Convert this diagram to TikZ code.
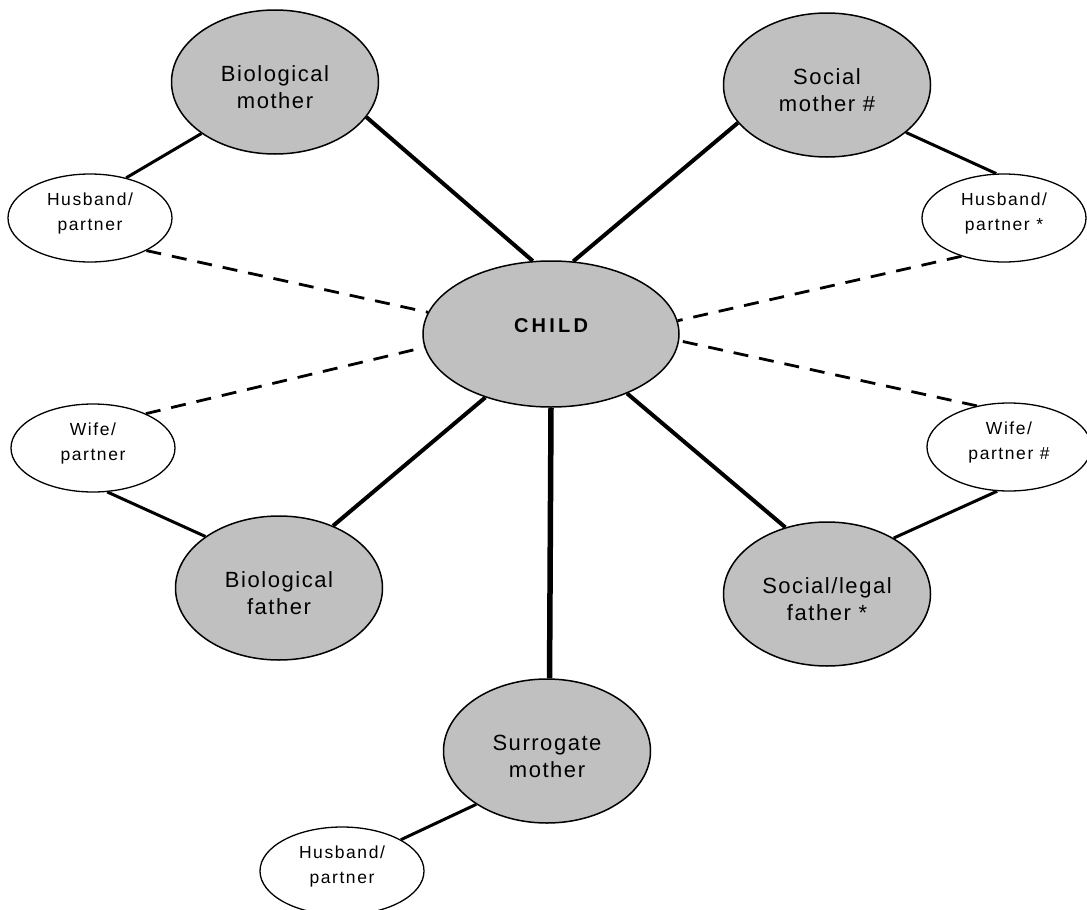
\documentclass[tikz,border=0pt]{standalone}
\usepackage{fontspec}
\setmainfont{Liberation Sans}
\usetikzlibrary{shapes.geometric}
\definecolor{nodegray}{HTML}{C0C0C0}
\newcommand{\toppad}{\rule{0pt}{27pt}}
\tikzset{
  big/.style={ellipse, draw=black, line width=1.5pt, fill=nodegray, inner sep=0pt,
    minimum width=207pt, minimum height=144pt, align=center,
    font=\fontsize{22}{27}\selectfont\addfontfeature{LetterSpace=7}},
  small/.style={ellipse, draw=black, line width=1.3pt, fill=white, inner sep=0pt,
    minimum width=164pt, minimum height=88pt, align=center,
    font=\fontsize{17.5}{25}\selectfont\addfontfeature{LetterSpace=9},
    execute at end node={\rule[-12pt]{0pt}{0pt}}},
  childnode/.style={ellipse, draw=black, line width=1.5pt, fill=nodegray, inner sep=0pt,
    minimum width=256pt, minimum height=146pt,
    font=\fontsize{20}{24}\bfseries\selectfont\addfontfeature{LetterSpace=16}},
  thickline/.style={line width=4pt},
  partnerline/.style={line width=3pt},
  dashline/.style={line width=2.8pt, dash pattern=on 15pt off 11pt}
}
\begin{document}
\begin{tikzpicture}[x=1pt,y=-1pt]
\useasboundingbox (0,0) rectangle (1087,910);
\node[childnode] (child) at (551,334) {\raisebox{2pt}[0pt][0pt]{CHILD}};
\node[big] (biomother) at (275,82) {\toppad Biological\\mother};
\node[big] (socmother) at (827,85) {\toppad Social\\mother \#};
\node[big] (biofather) at (279,588) {\toppad Biological\\father};
\node[big] (socfather) at (827,594) {\toppad Social/legal\\father *};
\node[big] (surrogate) at (547,751) {\toppad Surrogate\\mother};
\node[small] (husbL) at (90,218) {Husband/\\partner};
\node[small] (husbR) at (1004,218) {Husband/\\partner *};
\node[small] (wifeL) at (93,448) {Wife/\\partner};
\node[small] (wifeR) at (1009,447) {Wife/\\partner \#};
\node[small] (husbB) at (342,871) {Husband/\\partner};

\draw[thickline] (biomother.-21.7) -- (child.104);
\draw[thickline] (socmother.203.9) -- (child.73);
\draw[thickline] (biofather.49.4) -- (child.224.6);
\draw[thickline] (socfather.122.5) -- (child.-38.6);
\draw[line width=5.5pt] (child.270) -- (surrogate.88);

\draw[partnerline] (biomother.215.3) -- (husbL.48.8);
\draw[partnerline] (socmother.-31.2) -- (husbR.100.3);
\draw[partnerline] (biofather.145.4) -- (wifeL.288.4);
\draw[partnerline] (socfather.40.7) -- (wifeR.255.6);
\draw[partnerline] (surrogate.217.3) -- (husbB.28.1);

\draw[dashline] (husbL.-30) -- (child.170.8);
\draw[dashline] (wifeL.33) -- (child.186.4);
\draw[dashline] (husbR.222.8) -- (child.6.9);
\draw[dashline] (wifeR.128.5) -- (child.-3.2);
\end{tikzpicture}
\end{document}
